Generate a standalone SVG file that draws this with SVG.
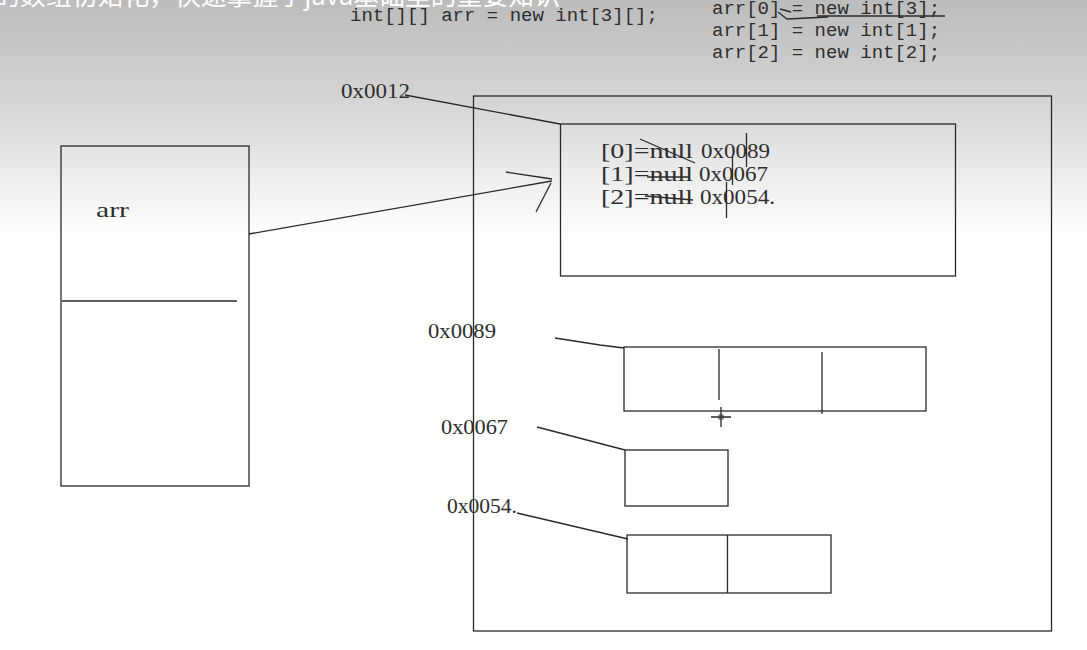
<svg xmlns="http://www.w3.org/2000/svg" width="1087" height="650" viewBox="0 0 1087 650">
<defs>
<linearGradient id="bg" x1="0" y1="0" x2="0" y2="1">
<stop offset="0" stop-color="#bcbcbc"/>
<stop offset="0.45" stop-color="#d6d6d6"/>
<stop offset="1" stop-color="#ffffff"/>
</linearGradient>
<style>
.box{fill:none;stroke:#2a2a2a;stroke-width:1.3}
.ln{fill:none;stroke:#2a2a2a;stroke-width:1.3}
.code{font-family:"Liberation Mono",monospace;font-size:19px;fill:#2e2e2e}
.lbl{font-family:"Liberation Serif",serif;font-size:22px;fill:#2e2e2e}
.sub{font-family:"Noto Sans CJK SC",sans-serif;font-size:26px;fill:#ffffff}
</style>
</defs>
<rect x="0" y="0" width="1087" height="650" fill="#ffffff"/>
<rect x="0" y="0" width="1087" height="235" fill="url(#bg)"/>
<text class="sub" x="-6" y="5" textLength="566" lengthAdjust="spacingAndGlyphs">的数组初始化，快速掌握了java基础里的重要知识</text>

<g id="code">
<text class="code" x="350" y="21">int[][] arr = new int[3][];</text>
<text class="code" x="712" y="14">arr[0] = new int[3];</text>
<text class="code" x="712" y="36">arr[1] = new int[1];</text>
<text class="code" x="712" y="58">arr[2] = new int[2];</text>
<path class="ln" d="M817 16 L945 16"/>
<path class="ln" d="M791 12 L780 9 M778 12 L787 19 L828 17"/>
</g>

<g id="stack">
<rect class="box" x="61" y="146" width="188" height="340"/>
<path class="ln" d="M62 301 L237 301"/>
<text class="lbl" x="96" y="217" textLength="33" lengthAdjust="spacingAndGlyphs">arr</text>
</g>

<g id="heap">
<rect class="box" x="473.5" y="96" width="578" height="535"/>
</g>

<g id="outer-array">
<rect class="box" x="560.5" y="124" width="395" height="152"/>
<text class="lbl" x="601" y="158" textLength="92" lengthAdjust="spacingAndGlyphs">[0]=null</text>
<text class="lbl" x="701" y="158" textLength="69" lengthAdjust="spacingAndGlyphs">0x0089</text>
<text class="lbl" x="601" y="181" textLength="92" lengthAdjust="spacingAndGlyphs">[1]=null</text>
<text class="lbl" x="699" y="181" textLength="69" lengthAdjust="spacingAndGlyphs">0x0067</text>
<text class="lbl" x="601" y="204" textLength="92" lengthAdjust="spacingAndGlyphs">[2]=null</text>
<text class="lbl" x="700" y="204" textLength="75" lengthAdjust="spacingAndGlyphs">0x0054.</text>
<path class="ln" d="M640 139 L695 163 M647 177 L689 177 M645 196 L693 200 M746.5 133 L746.5 167 M732.5 157 L732.5 185 M726.5 182 L726.5 218"/>
</g>

<g id="addr-0012">
<text class="lbl" x="341" y="98" textLength="69" lengthAdjust="spacingAndGlyphs">0x0012</text>
</g>

<g id="arr-0089">
<text class="lbl" x="428" y="338" textLength="68" lengthAdjust="spacingAndGlyphs">0x0089</text>
<rect class="box" x="624" y="347" width="302" height="64"/>
<path class="ln" d="M719 349 L719 400 M822 352 L822 414"/>
<path class="ln" d="M721 407 L721 427 M711 417 L731 417" stroke-width="1"/>
<rect x="719" y="415" width="4" height="4" fill="none" stroke="#2a2a2a" stroke-width="0.8"/>
</g>

<g id="arr-0067">
<text class="lbl" x="441" y="434" textLength="67" lengthAdjust="spacingAndGlyphs">0x0067</text>
<rect class="box" x="625" y="450" width="103" height="56"/>
</g>

<g id="arr-0054">
<text class="lbl" x="447" y="513" textLength="70" lengthAdjust="spacingAndGlyphs">0x0054.</text>
<rect class="box" x="627" y="535" width="204" height="58"/>
<path class="ln" d="M727.5 535 L727.5 593"/>
</g>

<g id="connectors">
<path class="ln" d="M405 95 L560 124"/>
<path class="ln" d="M249 234 L552 181"/>
<path class="ln" d="M506 172 L552 179 M536 212 L551 183"/>
<path class="ln" d="M555 338 L600 345 L624 348"/>
<path class="ln" d="M537 427 L625 450"/>
<path class="ln" d="M517 513 L628 539"/>
</g>
</svg>
